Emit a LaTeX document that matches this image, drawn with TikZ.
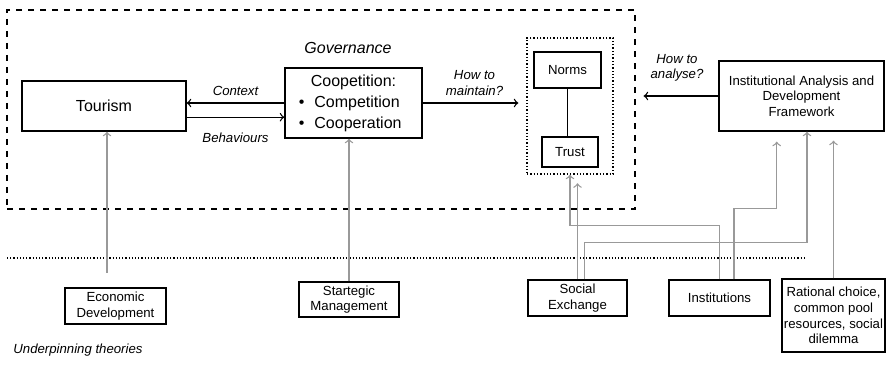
\documentclass[tikz,border=0pt]{standalone}
\usepackage{fontspec}
\setmainfont{Liberation Sans}
\usetikzlibrary{arrows}
\usetikzlibrary{positioning}
\newcommand{\bigtxt}{\fontsize{8}{10.5}\selectfont}
\newcommand{\smalltxt}{\fontsize{6.6}{7.8}\selectfont}
\tikzstyle{mainbox}=[draw, rectangle, line width=0.7pt, inner sep=0pt, font=\bigtxt, align=center]
\tikzstyle{smallbox}=[draw, rectangle, line width=0.65pt, inner sep=0pt, font=\smalltxt, align=center]
\tikzstyle{blackarrow}=[->, >=to, line width=0.65pt]
\tikzstyle{grayarrow}=[->, >=to, line width=0.65pt, gray!80]
\tikzstyle{tag}=[font=\smalltxt\itshape, align=center]
\tikzset{every picture/.style={
    x=0.5pt, y=-0.5pt
  }
}

\begin{document}
\begin{tikzpicture}
        \useasboundingbox (0,0) rectangle (886,367);
        % governance area
        \node[draw, dashed, line width=0.6pt, minimum width=314pt, minimum height=99.5pt] at (321,109.5) (governance) {};
        \node[font=\bigtxt\itshape] at (348,48) (govlabel) {Governance};
        \node[mainbox, minimum width=82pt, minimum height=25pt] at (104,106) (tourism) {Tourism};
        \node[mainbox, minimum width=68.5pt, minimum height=35pt] at (353.5,103) (coop) {\begin{tabular}{@{}l@{\hspace{5pt}}l@{}}
            \multicolumn{2}{c}{Coopetition:}\\
            \textbullet & Competition\\
            \textbullet & Cooperation
          \end{tabular}};
        \node[draw, densely dotted, line width=0.65pt, minimum width=43pt, minimum height=68pt] at (570,106) (trustgroup) {};
        \node[smallbox, minimum width=33.5pt, minimum height=18pt] at (567.5,70) (norms) {Norms};
        \node[smallbox, minimum width=28pt, minimum height=15pt] at (570,152) (trust) {Trust};
        \node[smallbox, minimum width=82.5pt, minimum height=35pt] at (801.5,96) (iad) {Institutional Analysis and\\Development\\Framework};
        \draw[blackarrow] (coop.west) -- (coop.west -| tourism.east) node[tag, midway, above] {Context};
        \draw[blackarrow] ([yshift=-5.6pt]tourism.east) -- ([yshift=-5.6pt]tourism.east -| coop.west) node[tag, midway, below=4.4pt] {Behaviours};
        \draw[blackarrow, shorten >=4pt] (coop.east) -- (coop.east -| trustgroup.west) node[tag, midway, above] {How to\\maintain?};
        \draw[blackarrow, shorten >=4pt] (iad.west) -- (iad.west -| governance.east) node[tag, midway, above=3.5pt] {How to\\analyse?};
        \draw[line width=0.65pt] (norms) -- (norms |- trust.north);
        % underpinning theories
        \draw[densely dotted, line width=0.6pt] (7,258) -- (806,258);
        \node[tag, anchor=west, inner sep=0pt] at (13,350) (underpin) {Underpinning theories};
        \node[smallbox, minimum width=50.5pt, minimum height=18pt] at (115.5,306) (econ) {Economic\\Development};
        \node[smallbox, minimum width=50pt, minimum height=17.5pt] at (349,299.5) (strat) {Startegic\\Management};
        \node[smallbox, minimum width=49.5pt, minimum height=18pt] at (577.5,298) (social) {Social\\Exchange};
        \node[smallbox, minimum width=50.5pt, minimum height=18pt] at (719.5,298) (inst) {Institutions};
        \node[smallbox, minimum width=51.5pt, minimum height=36.5pt] at (833.5,315.5) (rational) {Rational choice,\\common pool\\resources, social\\dilemma};
        \coordinate (econtop) at (107,273);
        \draw[grayarrow] (econtop) -- (econtop |- tourism.south);
        \draw[grayarrow] (strat.north) -- (strat.north |- coop.south);
        \draw[grayarrow, shorten >=4.3pt] (social.north) -- (social.north |- trustgroup.south);
        \draw[grayarrow] ([xshift=3.5pt]social.north) -- ++(0,-36.5) -| ([xshift=2.75pt]iad.south);
        \draw[grayarrow] (inst.north) -- ++(0,-54) -| (trustgroup.south);
        \draw[grayarrow, shorten >=5pt] ([xshift=7.25pt]inst.north) -- ++(0,-70.7) -| ([xshift=-12.4pt]iad.south);
        \draw[grayarrow, shorten >=4.5pt] (rational.north) -- (rational.north |- iad.south);
      \end{tikzpicture}
\end{document}
